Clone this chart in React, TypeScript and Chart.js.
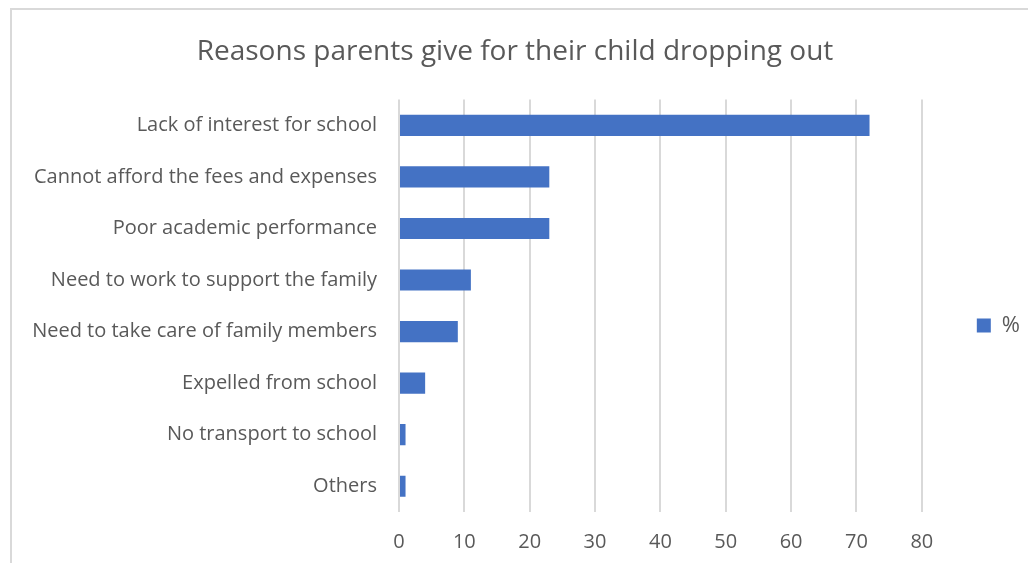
import React, { useEffect, useRef } from "react";
import { Chart, registerables } from "chart.js";

Chart.register(...registerables);

const TITLE = "Reasons parents give for their child dropping out";
const SERIES_LABEL = "%";
const CATEGORIES = [
  "Lack of interest for school",
  "Cannot afford the fees and expenses",
  "Poor academic performance",
  "Need to work to support the family",
  "Need to take care of family members",
  "Expelled from school",
  "No transport to school",
  "Others",
];
const VALUES = [72, 23, 23, 11, 9, 4, 1, 1];
const X_MIN = 0;
const X_MAX = 80;
const X_STEP = 10;

const FONT = "'Open Sans', 'Segoe UI', sans-serif";
const TEXT = "#595959";
const GRID = "#d9d9d9";
const BAR = "#4472C4";

export default function App() {
  const ref = useRef<HTMLCanvasElement | null>(null);

  useEffect(() => {
    if (!ref.current) return;
    const chart = new Chart(ref.current, {
      type: "bar",
      data: {
        labels: CATEGORIES,
        datasets: [
          {
            label: SERIES_LABEL,
            data: VALUES,
            backgroundColor: BAR,
            borderWidth: 0,
            categoryPercentage: 1,
            barPercentage: 0.41,
          },
        ],
      },
      options: {
        indexAxis: "y",
        animation: false,
        responsive: false,
        maintainAspectRatio: false,
        layout: { padding: { top: 35, right: -2, bottom: -9, left: 0 } },
        plugins: {
          title: {
            display: true,
            text: TITLE,
            color: TEXT,
            font: { family: FONT, size: 28, weight: "normal" },
            padding: { top: 0, bottom: 31 },
          },
          legend: {
            position: "right",
            title: {
              display: true,
              text: " ",
              font: { family: FONT, size: 20 },
              padding: { top: 10, bottom: 10 },
            },
            labels: {
              color: TEXT,
              font: { family: FONT, size: 22 },
              boxWidth: 14,
              boxHeight: 14,
              padding: 55,
            },
          },
          tooltip: { enabled: false },
        },
        scales: {
          x: {
            min: X_MIN,
            max: X_MAX,
            ticks: {
              stepSize: X_STEP,
              color: TEXT,
              font: { family: FONT, size: 20 },
              padding: 18,
            },
            grid: { color: GRID, lineWidth: 2, drawTicks: false },
            border: { display: false },
          },
          y: {
            afterFit: (scale: any) => {
              scale.width = 399;
            },
            ticks: {
              color: TEXT,
              font: { family: FONT, size: 20 },
              padding: 14,
            },
            grid: { display: false },
            border: { display: false },
          },
        },
      },
    });
    return () => chart.destroy();
  }, []);

  return (
    <div
      style={{
        position: "fixed",
        left: 0,
        top: 0,
        width: 1028,
        height: 563,
        background: "#fff",
        overflow: "hidden",
      }}
    >
      <div
        style={{
          position: "absolute",
          left: 10,
          top: 8,
          width: 1100,
          height: 700,
          border: `2px solid ${GRID}`,
          boxSizing: "border-box",
        }}
      />
      <canvas
        ref={ref}
        width={1028}
        height={563}
        style={{ position: "absolute", left: 0, top: 0 }}
      />
    </div>
  );
}
